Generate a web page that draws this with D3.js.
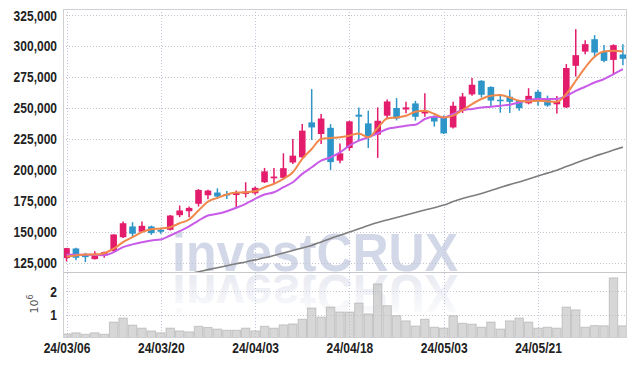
<!DOCTYPE html>
<html>
<head>
<meta charset="utf-8">
<script src="https://cdn.jsdelivr.net/npm/d3@7"></script>
<style>
body { margin: 0; background: #fff; }
</style>
</head>
<body>
<script>
// trading days shown, 24/03/06 .. 24/06/03
var dates = ["24/03/06","24/03/07","24/03/08","24/03/11","24/03/12","24/03/13","24/03/14","24/03/15","24/03/18","24/03/19",
  "24/03/20","24/03/21","24/03/22","24/03/25","24/03/26","24/03/27","24/03/28","24/03/29","24/04/01","24/04/02",
  "24/04/03","24/04/04","24/04/05","24/04/08","24/04/09","24/04/11","24/04/12","24/04/15","24/04/16","24/04/17",
  "24/04/18","24/04/19","24/04/22","24/04/23","24/04/24","24/04/25","24/04/26","24/04/29","24/04/30","24/05/02",
  "24/05/03","24/05/07","24/05/08","24/05/09","24/05/10","24/05/13","24/05/14","24/05/16","24/05/17","24/05/20",
  "24/05/21","24/05/22","24/05/23","24/05/24","24/05/27","24/05/28","24/05/29","24/05/30","24/05/31","24/06/03"];

var opens = [128700,136500,131500,127900,130900,134400,145600,154300,150000,154300,
  151600,151600,163400,166600,172600,179500,181700,180500,179700,180600,
  181100,190000,193200,193600,206000,210200,238400,229000,234000,207500,
  217700,244600,237600,228500,243800,250000,248800,253700,245600,242900,
  242400,234300,247800,261000,272000,267000,256700,259100,255700,253800,
  263100,257000,253000,250500,284100,295600,305600,295300,288900,293300];
var highs = [137000,137000,133000,134300,134000,148000,158300,157700,158300,155000,
  153200,163500,171200,170400,184500,184000,185100,183000,183300,190000,
  186500,201600,201600,213400,225000,237100,265300,245200,237000,221400,
  239700,250500,247800,250500,256900,258000,255000,255800,262000,244000,
  244000,255000,262100,274200,272500,267500,261300,264700,256500,266000,
  264700,260000,259800,285500,313700,304800,308900,301000,301500,301600];
var lows = [126000,127000,125500,127500,129000,133500,145000,145600,149500,147500,
  148400,151000,161800,161800,170400,176300,176500,176500,169400,177800,
  180000,189500,188700,192700,204800,209500,224200,221000,200000,205300,
  215500,223600,217700,209700,242000,240000,245700,239800,243000,235000,
  229000,233500,246000,260000,258500,251000,246200,246000,247800,253000,
  251800,251000,245600,250000,275400,293500,290800,287000,276600,284500];
var closes = [136800,129000,129500,132200,133500,147800,156900,148400,154800,148900,
  150000,163100,167200,169300,183800,183300,178500,179500,181700,182500,
  185500,198800,194600,201400,211500,231700,234300,241500,206300,213400,
  239200,243000,226300,239700,255300,241500,250500,242900,247400,239100,
  229500,251800,259300,268800,260700,256000,255800,255000,249800,259800,
  255300,252000,255300,282300,292700,301600,294800,288100,300800,289800];

// volume in millions (axis unit 10^6)
var volumes = [0.18,0.23,0.17,0.23,0.17,0.69,0.86,0.56,0.43,0.31,
  0.23,0.43,0.31,0.27,0.51,0.46,0.39,0.34,0.34,0.43,
  0.31,0.51,0.43,0.57,0.61,0.81,1.29,0.90,1.33,1.12,
  1.12,1.50,1.04,2.32,1.39,0.96,0.74,0.52,0.81,0.47,
  0.43,0.96,0.64,0.60,0.47,0.69,0.39,0.74,0.86,0.69,
  0.43,0.47,0.43,1.33,1.21,0.47,0.54,0.53,2.58,0.53];

// moving averages
var maShort = [130100,130900,131700,131700,132700,136300,141600,145600,149700,152100,
  152700,153700,156900,159900,167200,174400,177400,180100,181700,181900,
  182700,186000,188700,192700,198100,208900,216900,225000,225800,226300,
  227700,229500,226300,233900,241600,242400,243800,247000,247800,245200,
  242400,243800,248400,253200,257300,259900,260500,258500,255900,255300,
  255900,255300,255000,261300,272000,282700,291400,295600,296200,295600];
var maMid = [131500,131500,131500,131300,131100,133500,137600,139800,141600,143000,
  143800,147000,150500,154300,159100,163100,164500,166600,169400,172600,
  176600,180100,181900,186000,190000,196800,202100,207500,210200,214200,
  219600,223600,226300,229500,233100,234400,235700,236500,241100,243000,
  242400,245200,248400,249200,250500,251100,251900,252700,254500,256500,
  257300,257300,257300,259900,263900,267200,270600,273400,277400,281500];
var maLong = [null,null,null,null,null,null,null,null,null,null,
  null,null,null,116100,117700,119400,121000,122600,124200,125600,
  127300,129000,130900,132900,134900,136900,139000,141800,144600,147200,
  149800,152400,155100,157500,159500,161500,163500,165600,167600,169400,
  171600,174400,176900,178900,180900,183300,185700,188100,190200,192600,
  195000,197400,199800,202700,205500,208300,211100,213500,216000,218400];

var priceTicks = [125000,150000,175000,200000,225000,250000,275000,300000,325000];
var volTicks = [1,2];
var dateTicks = ["24/03/06","24/03/20","24/04/03","24/04/18","24/05/03","24/05/21"];

var width = 636, height = 366;
var pLeft = 63, pRight = 627, pTop = 9, pMid = 272, pBottom = 337;

var svg = d3.select("body").append("svg")
  .attr("width", width)
  .attr("height", height);

var x = d3.scaleLinear().domain([0, dates.length - 1]).range([66.5, 622.9]);
var y = d3.scaleLinear().domain([117500, 330000]).range([pMid, pTop]);
var yv = d3.scaleLinear().domain([0, 2.83]).range([338.2, pMid]);
var step = x(1) - x(0);

var defs = svg.append("defs");
defs.append("clipPath").attr("id", "clipPrice")
  .append("rect").attr("x", pLeft).attr("y", pTop).attr("width", pRight - pLeft).attr("height", pMid - pTop);
defs.append("clipPath").attr("id", "clipVol")
  .append("rect").attr("x", pLeft).attr("y", pMid).attr("width", pRight - pLeft).attr("height", pBottom - pMid);
var grad = defs.append("linearGradient").attr("id", "fade")
  .attr("x1", 0).attr("y1", 0).attr("x2", 0).attr("y2", 1);
grad.append("stop").attr("offset", "0%").attr("stop-color", "#ffffff");
grad.append("stop").attr("offset", "100%").attr("stop-color", "#e4e6ef");

// watermark
svg.append("text")
  .attr("x", 172).attr("y", 271)
  .attr("textLength", 286).attr("lengthAdjust", "spacingAndGlyphs")
  .style("font-family", "'Liberation Sans', Arial, sans-serif")
  .style("font-weight", "bold").style("font-size", "54px")
  .attr("fill", "#d3d8e8")
  .text("investCRUX");
svg.append("g").attr("clip-path", "url(#clipVol)")
  .append("text")
  .attr("transform", "translate(0," + (2 * pMid + 2) + ") scale(1,-1)")
  .attr("x", 172).attr("y", 271)
  .attr("textLength", 286).attr("lengthAdjust", "spacingAndGlyphs")
  .style("font-family", "'Liberation Sans', Arial, sans-serif")
  .style("font-weight", "bold").style("font-size", "54px")
  .attr("fill", "url(#fade)")
  .text("investCRUX");

// grid
var grid = svg.append("g").attr("fill", "none").attr("stroke-dasharray", "1,2");
grid.selectAll("line.hp").data(priceTicks).enter().append("line")
  .attr("x1", pLeft).attr("x2", pRight)
  .attr("y1", function(d) { return Math.round(y(d)) + 0.5; })
  .attr("y2", function(d) { return Math.round(y(d)) + 0.5; })
  .attr("stroke", "#c4c4d0");
grid.selectAll("line.hv").data(volTicks).enter().append("line")
  .attr("x1", pLeft).attr("x2", pRight)
  .attr("y1", function(d) { return Math.round(yv(d)) + 0.5; })
  .attr("y2", function(d) { return Math.round(yv(d)) + 0.5; })
  .attr("stroke", "#c4c4d0");
grid.selectAll("line.v").data(dateTicks).enter().append("line")
  .attr("x1", function(d) { return Math.round(x(dates.indexOf(d))) + 0.5; })
  .attr("x2", function(d) { return Math.round(x(dates.indexOf(d))) + 0.5; })
  .attr("y1", pTop).attr("y2", pBottom)
  .attr("stroke", "#c0c4da");

// volume bars
svg.append("g").attr("clip-path", "url(#clipVol)")
  .selectAll("rect").data(volumes).enter().append("rect")
  .attr("x", function(d, i) { return x(i) - step / 2 + 0.5; })
  .attr("width", step - 1)
  .attr("y", function(d) { return yv(d); })
  .attr("height", function(d) { return yv(0) - yv(d); })
  .attr("fill", "#bdbdbd").attr("fill-opacity", 0.6)
  .attr("stroke", "#9a9a9a").attr("stroke-opacity", 0.45);

// long MA
var priceG = svg.append("g").attr("clip-path", "url(#clipPrice)");
var line = d3.line()
  .defined(function(d) { return d != null; })
  .x(function(d, i) { return x(i); })
  .y(function(d) { return y(d); })
  .curve(d3.curveMonotoneX);
priceG.append("path").datum(maLong)
  .attr("fill", "none").attr("stroke", "#7d7d7d").attr("stroke-width", 1.6)
  .attr("d", line);

// candles
var up = "#e31c6c", down = "#2d95c8";
var candles = priceG.selectAll("g.c").data(dates).enter().append("g");
candles.append("line")
  .attr("x1", function(d, i) { return x(i); })
  .attr("x2", function(d, i) { return x(i); })
  .attr("y1", function(d, i) { return y(highs[i]); })
  .attr("y2", function(d, i) { return y(lows[i]); })
  .attr("stroke", function(d, i) { return closes[i] >= opens[i] ? up : down; })
  .attr("stroke-width", 1.5);
candles.append("rect")
  .attr("x", function(d, i) { return x(i) - 3.3; })
  .attr("width", 6.6)
  .attr("y", function(d, i) { return y(Math.max(opens[i], closes[i])); })
  .attr("height", function(d, i) { return Math.max(1.5, Math.abs(y(opens[i]) - y(closes[i]))); })
  .attr("fill", function(d, i) { return closes[i] >= opens[i] ? up : down; });

priceG.append("path").datum(maMid)
  .attr("fill", "none").attr("stroke", "#c85ce8").attr("stroke-width", 2)
  .attr("d", line);
priceG.append("path").datum(maShort)
  .attr("fill", "none").attr("stroke", "#f0884c").attr("stroke-width", 2)
  .attr("d", line);

// frame
svg.append("rect").attr("x", pLeft + 0.5).attr("y", pTop + 0.5)
  .attr("width", pRight - pLeft - 1).attr("height", pBottom - pTop)
  .attr("fill", "none").attr("stroke", "#cfcfd4");
svg.append("line").attr("x1", pLeft).attr("x2", pRight)
  .attr("y1", pMid + 0.5).attr("y2", pMid + 0.5)
  .attr("stroke", "#c8c8cc");

// axes
var yAxis = svg.append("g")
  .attr("transform", "translate(" + (pLeft - 6) + ",0)")
  .call(d3.axisLeft(y).tickValues(priceTicks).tickSize(0).tickPadding(0).tickFormat(d3.format(",")));
var vAxis = svg.append("g")
  .attr("transform", "translate(" + (pLeft - 6) + ",0)")
  .call(d3.axisLeft(yv).tickValues(volTicks).tickSize(0).tickPadding(0).tickFormat(d3.format("d")));
var xAxis = svg.append("g")
  .attr("transform", "translate(0," + (pBottom + 5) + ")")
  .call(d3.axisBottom(x).tickValues(dateTicks.map(function(d) { return dates.indexOf(d); }))
    .tickSize(0).tickPadding(0).tickFormat(function(i) { return dates[i]; }));
[yAxis, vAxis, xAxis].forEach(function(a) {
  a.select(".domain").remove();
  a.selectAll("text")
    .style("font-family", "'Liberation Sans', Arial, sans-serif")
    .style("font-size", "15px").style("font-weight", "bold").attr("fill", "#222")
    .each(function() {
      // narrow the glyphs like the condensed face in the original
      var w = this.getComputedTextLength();
      d3.select(this).attr("textLength", w * 0.8).attr("lengthAdjust", "spacingAndGlyphs");
    });
});

// unit label
var unit = svg.append("text")
  .attr("transform", "translate(38,304) rotate(-90)")
  .attr("text-anchor", "middle")
  .style("font-family", "'DejaVu Sans', sans-serif")
  .style("font-size", "11px").attr("fill", "#555");
unit.append("tspan").text("10");
unit.append("tspan").attr("dy", -5).style("font-size", "8px").text("6");
</script>
</body>
</html>
